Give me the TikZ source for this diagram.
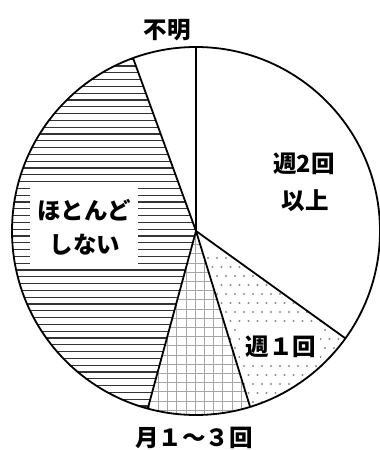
\documentclass[tikz,border=0pt]{standalone}
\usepackage{fontspec}
\newfontfamily\cjk{Noto Sans CJK JP}
\tikzset{
  rim/.style={line width=1.8pt,black},
  hatchline/.style={line width=1.3pt,black!80},
  gridline/.style={line width=0.9pt,black!35},
  dotfill/.style={fill=black!45},
  lbl/.style={font=\cjk\bfseries\fontsize{23.5}{27}\selectfont,inner sep=0pt},
  blank/.style={fill=white,draw=none}
}
\begin{document}
\begin{tikzpicture}[x=1pt,y=1pt]
\useasboundingbox (0,0) rectangle (380,450);
\fill[white] (0,0) rectangle (380,450);
\def\R{184}
\coordinate (O) at (196,219);
% horizontal hatch: hotondo shinai (110 -> 254.8)
\begin{scope}
  \clip (O) -- ++(110:\R) arc[start angle=110,end angle=254.8,radius=\R] -- cycle;
  \foreach \k in {0,...,60} {
    \draw[hatchline] (0,{\k*6.8+10}) -- (380,{\k*6.8+10});
  }
  \fill[blank] (30,182) rectangle (138,262);
\end{scope}
% grid: month 1-3 (254.8 -> 287.1)
\begin{scope}
  \clip (O) -- ++(254.8:\R) arc[start angle=254.8,end angle=287.1,radius=\R] -- cycle;
  \foreach \k in {0,...,25} {
    \draw[gridline] (0,{\k*9.2+3}) -- (380,{\k*9.2+3});
    \draw[gridline] ({\k*9.2+140},0) -- ({\k*9.2+140},450);
  }
\end{scope}
% dots: week 1 (287.1 -> 324.3)
\begin{scope}
  \clip (O) -- ++(287.1:\R) arc[start angle=287.1,end angle=324.3,radius=\R] -- cycle;
  \foreach \i in {0,...,16} {
    \foreach \j in {0,...,18} {
      \fill[dotfill] ({190+\i*9+mod(\j,2)*4.5},{30+\j*9}) circle[radius=1.2];
    }
  }
  \fill[blank] (240,85) rectangle (320,122);
\end{scope}
% outline and radii
\draw[rim] (O) circle[radius=\R];
\draw[rim] (O) -- ++(90:\R);
\draw[rim] (O) -- ++(110:\R);
\draw[rim] (O) -- ++(254.8:\R);
\draw[rim] (O) -- ++(287.1:\R);
\draw[rim] (O) -- ++(324.3:\R);
% labels
\node[lbl] (fumei) at (167,420) {不明};
\node[lbl] (shu2a) at (304,286) {週2回};
\node[lbl] (shu2b) at (305,249) {以上};
\node[lbl] (hoto) at (84,240) {ほとんど};
\node[lbl] (shinai) at (85,205) {しない};
\node[lbl] (shu1) at (281,103) {週１回};
\node[lbl] (tsuki) at (194,12) {月１〜３回};
\end{tikzpicture}
\end{document}
